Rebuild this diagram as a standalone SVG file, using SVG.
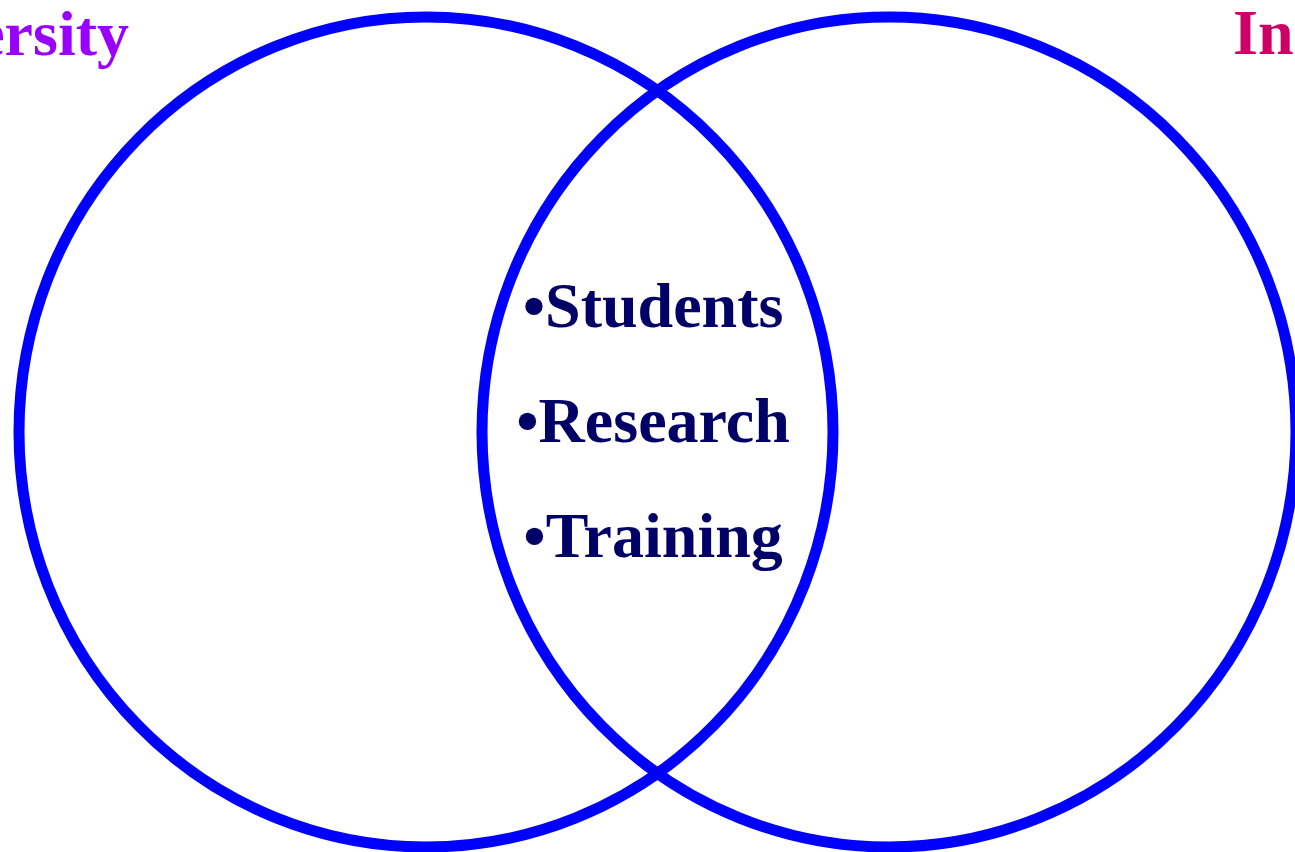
<svg xmlns="http://www.w3.org/2000/svg" width="1295" height="852" viewBox="0 0 1295 852">
<style>
.ring{fill:none;stroke:#0000FF;stroke-width:11}
.lbl{font-family:"Liberation Serif","Times New Roman",serif;font-weight:bold;font-size:64px}
.item{fill:#000066;text-anchor:middle}
</style>
<rect width="1295" height="852" fill="#FFFFFF"/>
<g id="university">
<ellipse class="ring" cx="426" cy="432" rx="407" ry="415"/>
<text class="lbl" x="129" y="55" fill="#9900FF" text-anchor="end">University</text>
</g>
<g id="industry">
<ellipse class="ring" cx="889" cy="432" rx="407" ry="415"/>
<text class="lbl" x="1233" y="54" fill="#CC0066">Industry</text>
</g>
<g id="overlap">
<text class="lbl item" x="653" y="327">•Students</text>
<text class="lbl item" x="653" y="442">•Research</text>
<text class="lbl item" x="653" y="557">•Training</text>
</g>
<g id="connectors"></g>
</svg>
